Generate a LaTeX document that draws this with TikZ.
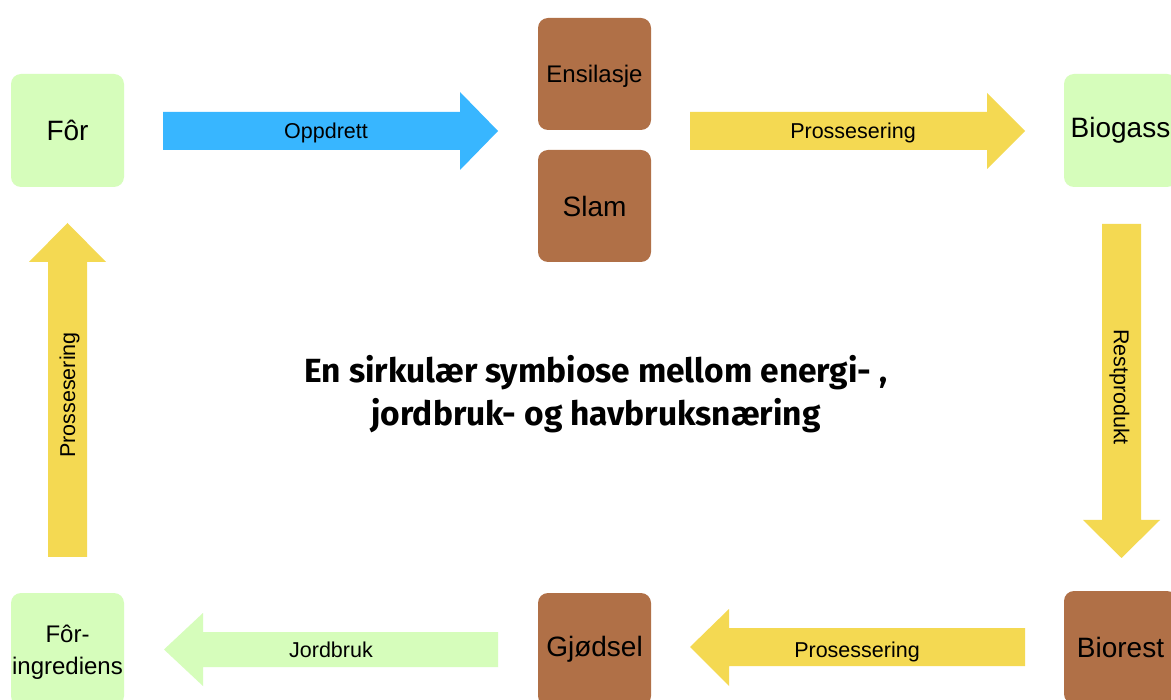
\documentclass[tikz,border=0pt]{standalone}
\usepackage{fontspec}
\setmainfont{Liberation Sans}
\newfontfamily\titlefont{Fira Sans}
\definecolor{leaf}{HTML}{D6FDBB}
\definecolor{soil}{HTML}{B07047}
\definecolor{sky}{HTML}{38B6FF}
\definecolor{sun}{HTML}{F4D952}
\tikzset{
  box/.style={rounded corners=10pt, minimum width=113pt, minimum height=113pt,
    inner sep=0pt, align=center, font=\fontsize{28}{32}\selectfont},
  smallbox/.style={box, font=\fontsize{24}{32}\selectfont},
  smalltext/.style={align=center, inner sep=0pt, font=\fontsize{24}{32}\selectfont},
  flowlabel/.style={inner sep=0pt, font=\fontsize{21.5}{24}\selectfont},
}
\begin{document}
\begin{tikzpicture}[x=1pt,y=-1pt]
\clip (0,0) rectangle (1171,700);
\fill[white] (0,0) rectangle (1171,700);

% boxes
\node[box, fill=leaf] (for) at (67.5,130.5) {Fôr};
\node[smallbox, fill=soil, minimum height=112pt] (ensil) at (594.5,74) {};
\node[smalltext] (ensiltext) at (594.5,76) {Ensilasje};
\node[box, fill=soil, minimum height=112pt] (slam) at (594.5,206) {Slam};
\node[box, fill=leaf] (biogass) at (1120.5,130.5) {Biogass};
\node[box, fill=soil] (biorest) at (1120.5,647.5) {Biorest};
\node[box, fill=soil] (gjodsel) at (594.5,649.5) {Gjødsel};
\node[smallbox, fill=leaf] (ingr) at (67.5,649.5) {};
\node[smalltext] (ingrtext) at (67.5,652) {Fôr-\\ingrediens};

% block arrows
\fill[sky] (163,112) -- (460,112) -- (460,92) -- (498,131) -- (460,170) -- (460,150) -- (163,150) -- cycle;
\node[flowlabel] (oppdrett) at (326,133) {Oppdrett};

\fill[sun] (690,112) -- (987,112) -- (987,93) -- (1025,131) -- (987,169) -- (987,150) -- (690,150) -- cycle;
\node[flowlabel] (pros1) at (853,133) {Prossesering};

\fill[sun] (1102,224) -- (1141,224) -- (1141,520) -- (1160,520) -- (1121.5,558) -- (1083,520) -- (1102,520) -- cycle;
\node[flowlabel, rotate=-90] (rest) at (1119.5,387) {Restprodukt};

\fill[sun] (1025,628) -- (729,628) -- (729,609) -- (690,647) -- (729,686) -- (729,666) -- (1025,666) -- cycle;
\node[flowlabel] (pros2) at (857,652) {Prosessering};

\fill[leaf] (498,632) -- (203,632) -- (203,613) -- (164,649.5) -- (203,686) -- (203,667) -- (498,667) -- cycle;
\node[flowlabel] (jordbruk) at (331,650) {Jordbruk};

\fill[sun] (48,557) -- (48,262) -- (29,262) -- (67.5,223) -- (106,262) -- (87,262) -- (87,557) -- cycle;
\node[flowlabel, rotate=90] (pros3) at (69.5,395) {Prossesering};

% title
\node[align=center, inner sep=0pt, font=\titlefont\bfseries\fontsize{33.5}{43}\selectfont] (title) at (596,394)
  {En sirkulær symbiose mellom energi- ,\\jordbruk- og havbruksnæring};
\end{tikzpicture}
\end{document}
